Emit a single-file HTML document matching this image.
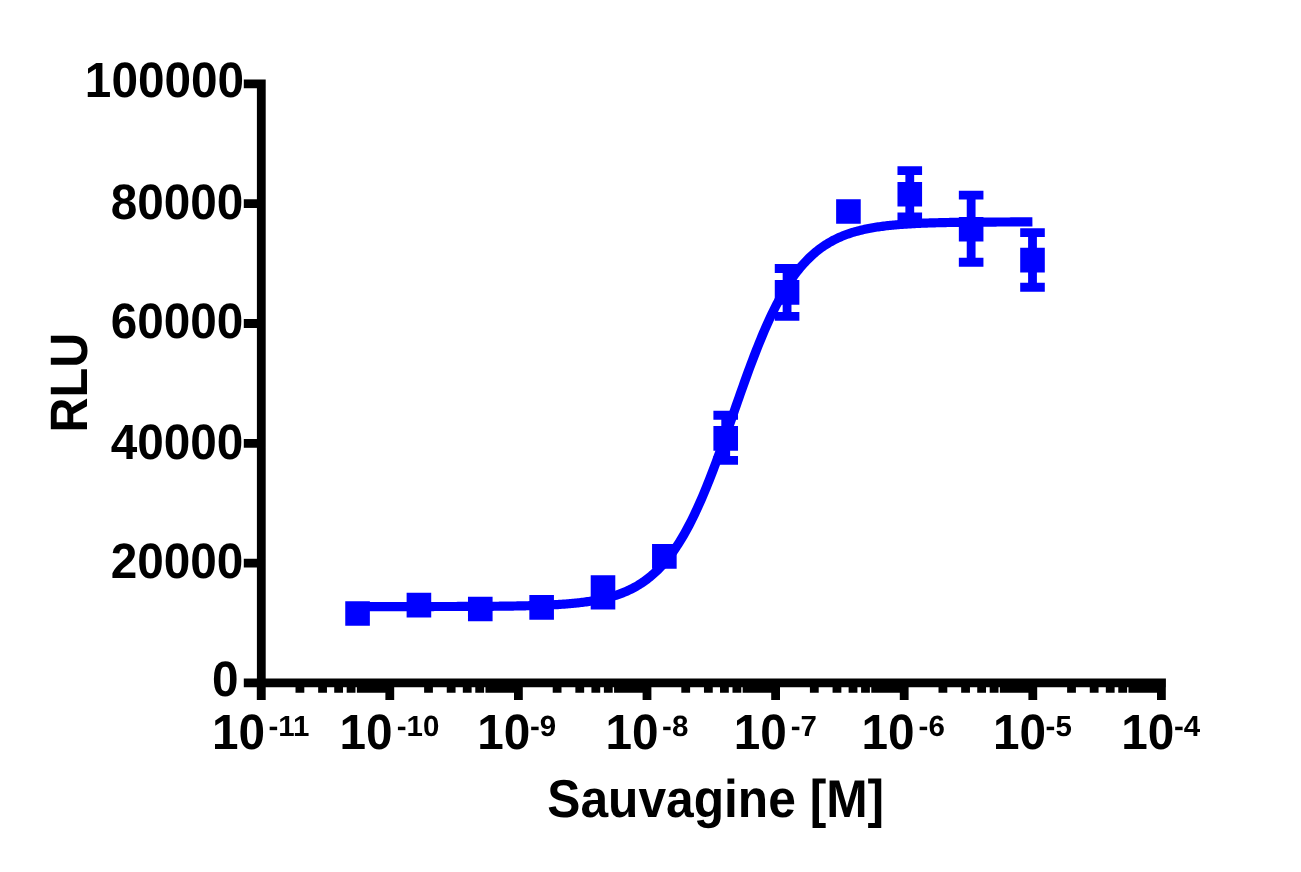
<!DOCTYPE html>
<html><head><meta charset="utf-8"><title>Sauvagine dose response</title>
<style>
html,body{margin:0;padding:0;background:#fff;width:1301px;height:872px;overflow:hidden}
svg{display:block}
.t{font-family:"Liberation Sans",Arial,sans-serif;font-weight:bold;fill:#000;text-rendering:geometricPrecision}
</style></head><body>
<svg width="1301" height="872" viewBox="0 0 1301 872">
<rect width="1301" height="872" fill="#fff"/>
<path d="M256.90 79.50H265.70V700.10H256.90ZM256.90 678.50H1165.90V687.30H256.90ZM243.80 678.50H261.30V687.30H243.80ZM243.80 558.70H261.30V567.50H243.80ZM243.80 438.90H261.30V447.70H243.80ZM243.80 319.10H261.30V327.90H243.80ZM243.80 199.30H261.30V208.10H243.80ZM243.80 79.50H261.30V88.30H243.80ZM256.80 682.90H265.60V700.10H256.80ZM295.51 682.90H304.31V692.70H295.51ZM318.16 682.90H326.96V692.70H318.16ZM334.22 682.90H343.02V692.70H334.22ZM346.69 682.90H355.49V692.70H346.69ZM356.87 682.90H365.67V692.70H356.87ZM365.48 682.90H374.28V692.70H365.48ZM372.94 682.90H381.74V692.70H372.94ZM379.52 682.90H388.32V692.70H379.52ZM385.40 682.90H394.20V700.10H385.40ZM424.11 682.90H432.91V692.70H424.11ZM446.76 682.90H455.56V692.70H446.76ZM462.82 682.90H471.62V692.70H462.82ZM475.29 682.90H484.09V692.70H475.29ZM485.47 682.90H494.27V692.70H485.47ZM494.08 682.90H502.88V692.70H494.08ZM501.54 682.90H510.34V692.70H501.54ZM508.12 682.90H516.92V692.70H508.12ZM514.00 682.90H522.80V700.10H514.00ZM552.71 682.90H561.51V692.70H552.71ZM575.36 682.90H584.16V692.70H575.36ZM591.42 682.90H600.22V692.70H591.42ZM603.89 682.90H612.69V692.70H603.89ZM614.07 682.90H622.87V692.70H614.07ZM622.68 682.90H631.48V692.70H622.68ZM630.14 682.90H638.94V692.70H630.14ZM636.72 682.90H645.52V692.70H636.72ZM642.60 682.90H651.40V700.10H642.60ZM681.31 682.90H690.11V692.70H681.31ZM703.96 682.90H712.76V692.70H703.96ZM720.02 682.90H728.82V692.70H720.02ZM732.49 682.90H741.29V692.70H732.49ZM742.67 682.90H751.47V692.70H742.67ZM751.28 682.90H760.08V692.70H751.28ZM758.74 682.90H767.54V692.70H758.74ZM765.32 682.90H774.12V692.70H765.32ZM771.20 682.90H780.00V700.10H771.20ZM809.91 682.90H818.71V692.70H809.91ZM832.56 682.90H841.36V692.70H832.56ZM848.62 682.90H857.42V692.70H848.62ZM861.09 682.90H869.89V692.70H861.09ZM871.27 682.90H880.07V692.70H871.27ZM879.88 682.90H888.68V692.70H879.88ZM887.34 682.90H896.14V692.70H887.34ZM893.92 682.90H902.72V692.70H893.92ZM899.80 682.90H908.60V700.10H899.80ZM938.51 682.90H947.31V692.70H938.51ZM961.16 682.90H969.96V692.70H961.16ZM977.22 682.90H986.02V692.70H977.22ZM989.69 682.90H998.49V692.70H989.69ZM999.87 682.90H1008.67V692.70H999.87ZM1008.48 682.90H1017.28V692.70H1008.48ZM1015.94 682.90H1024.74V692.70H1015.94ZM1022.52 682.90H1031.32V692.70H1022.52ZM1028.40 682.90H1037.20V700.10H1028.40ZM1067.11 682.90H1075.91V692.70H1067.11ZM1089.76 682.90H1098.56V692.70H1089.76ZM1105.82 682.90H1114.62V692.70H1105.82ZM1118.29 682.90H1127.09V692.70H1118.29ZM1128.47 682.90H1137.27V692.70H1128.47ZM1137.08 682.90H1145.88V692.70H1137.08ZM1144.54 682.90H1153.34V692.70H1144.54ZM1151.12 682.90H1159.92V692.70H1151.12ZM1157.00 682.90H1165.80V700.10H1157.00Z" fill="#000"/>
<path d="M357.60,606.57 L358.95,606.57 L360.30,606.57 L361.66,606.57 L363.01,606.57 L364.36,606.57 L365.71,606.57 L367.07,606.57 L368.42,606.57 L369.77,606.57 L371.12,606.57 L372.48,606.57 L373.83,606.57 L375.18,606.57 L376.53,606.57 L377.88,606.57 L379.24,606.57 L380.59,606.57 L381.94,606.57 L383.29,606.57 L384.65,606.57 L386.00,606.56 L387.35,606.56 L388.70,606.56 L390.06,606.56 L391.41,606.56 L392.76,606.56 L394.11,606.56 L395.46,606.56 L396.82,606.56 L398.17,606.56 L399.52,606.56 L400.87,606.56 L402.23,606.56 L403.58,606.56 L404.93,606.56 L406.28,606.55 L407.64,606.55 L408.99,606.55 L410.34,606.55 L411.69,606.55 L413.04,606.55 L414.40,606.55 L415.75,606.55 L417.10,606.55 L418.45,606.54 L419.81,606.54 L421.16,606.54 L422.51,606.54 L423.86,606.54 L425.22,606.54 L426.57,606.54 L427.92,606.53 L429.27,606.53 L430.62,606.53 L431.98,606.53 L433.33,606.53 L434.68,606.52 L436.03,606.52 L437.39,606.52 L438.74,606.52 L440.09,606.52 L441.44,606.51 L442.80,606.51 L444.15,606.51 L445.50,606.50 L446.85,606.50 L448.20,606.50 L449.56,606.50 L450.91,606.49 L452.26,606.49 L453.61,606.49 L454.97,606.48 L456.32,606.48 L457.67,606.47 L459.02,606.47 L460.38,606.46 L461.73,606.46 L463.08,606.46 L464.43,606.45 L465.78,606.45 L467.14,606.44 L468.49,606.43 L469.84,606.43 L471.19,606.42 L472.55,606.42 L473.90,606.41 L475.25,606.40 L476.60,606.39 L477.96,606.39 L479.31,606.38 L480.66,606.37 L482.01,606.36 L483.36,606.35 L484.72,606.35 L486.07,606.34 L487.42,606.33 L488.77,606.32 L490.13,606.30 L491.48,606.29 L492.83,606.28 L494.18,606.27 L495.54,606.26 L496.89,606.24 L498.24,606.23 L499.59,606.22 L500.94,606.20 L502.30,606.19 L503.65,606.17 L505.00,606.15 L506.35,606.13 L507.71,606.12 L509.06,606.10 L510.41,606.08 L511.76,606.06 L513.12,606.04 L514.47,606.01 L515.82,605.99 L517.17,605.97 L518.52,605.94 L519.88,605.92 L521.23,605.89 L522.58,605.86 L523.93,605.83 L525.29,605.80 L526.64,605.77 L527.99,605.73 L529.34,605.70 L530.69,605.66 L532.05,605.63 L533.40,605.59 L534.75,605.55 L536.10,605.50 L537.46,605.46 L538.81,605.41 L540.16,605.37 L541.51,605.32 L542.87,605.27 L544.22,605.21 L545.57,605.16 L546.92,605.10 L548.27,605.04 L549.63,604.97 L550.98,604.91 L552.33,604.84 L553.68,604.77 L555.04,604.69 L556.39,604.62 L557.74,604.54 L559.09,604.45 L560.45,604.37 L561.80,604.28 L563.15,604.18 L564.50,604.08 L565.85,603.98 L567.21,603.88 L568.56,603.77 L569.91,603.65 L571.26,603.53 L572.62,603.41 L573.97,603.28 L575.32,603.14 L576.67,603.00 L578.03,602.86 L579.38,602.70 L580.73,602.55 L582.08,602.38 L583.43,602.21 L584.79,602.03 L586.14,601.85 L587.49,601.66 L588.84,601.46 L590.20,601.25 L591.55,601.03 L592.90,600.81 L594.25,600.58 L595.61,600.33 L596.96,600.08 L598.31,599.82 L599.66,599.54 L601.01,599.26 L602.37,598.96 L603.72,598.66 L605.07,598.34 L606.42,598.01 L607.78,597.66 L609.13,597.30 L610.48,596.93 L611.83,596.54 L613.19,596.14 L614.54,595.72 L615.89,595.29 L617.24,594.84 L618.59,594.37 L619.95,593.89 L621.30,593.38 L622.65,592.86 L624.00,592.31 L625.36,591.75 L626.71,591.16 L628.06,590.55 L629.41,589.92 L630.77,589.27 L632.12,588.59 L633.47,587.88 L634.82,587.15 L636.17,586.40 L637.53,585.61 L638.88,584.80 L640.23,583.95 L641.58,583.08 L642.94,582.17 L644.29,581.23 L645.64,580.26 L646.99,579.25 L648.35,578.21 L649.70,577.13 L651.05,576.02 L652.40,574.86 L653.75,573.67 L655.11,572.43 L656.46,571.16 L657.81,569.84 L659.16,568.48 L660.52,567.07 L661.87,565.61 L663.22,564.11 L664.57,562.56 L665.93,560.97 L667.28,559.32 L668.63,557.62 L669.98,555.87 L671.33,554.07 L672.69,552.21 L674.04,550.30 L675.39,548.34 L676.74,546.31 L678.10,544.23 L679.45,542.10 L680.80,539.90 L682.15,537.65 L683.51,535.34 L684.86,532.96 L686.21,530.53 L687.56,528.04 L688.91,525.49 L690.27,522.88 L691.62,520.20 L692.97,517.47 L694.32,514.68 L695.68,511.83 L697.03,508.92 L698.38,505.95 L699.73,502.92 L701.09,499.84 L702.44,496.70 L703.79,493.50 L705.14,490.25 L706.49,486.95 L707.85,483.60 L709.20,480.20 L710.55,476.76 L711.90,473.26 L713.26,469.73 L714.61,466.15 L715.96,462.53 L717.31,458.88 L718.67,455.19 L720.02,451.47 L721.37,447.72 L722.72,443.94 L724.07,440.14 L725.43,436.32 L726.78,432.49 L728.13,428.63 L729.48,424.77 L730.84,420.90 L732.19,417.02 L733.54,413.14 L734.89,409.26 L736.25,405.38 L737.60,401.52 L738.95,397.66 L740.30,393.81 L741.65,389.98 L743.01,386.18 L744.36,382.39 L745.71,378.63 L747.06,374.89 L748.42,371.19 L749.77,367.52 L751.12,363.89 L752.47,360.29 L753.83,356.74 L755.18,353.23 L756.53,349.76 L757.88,346.34 L759.23,342.97 L760.59,339.64 L761.94,336.37 L763.29,333.15 L764.64,329.99 L766.00,326.88 L767.35,323.83 L768.70,320.83 L770.05,317.90 L771.41,315.02 L772.76,312.20 L774.11,309.44 L775.46,306.74 L776.81,304.10 L778.17,301.53 L779.52,299.01 L780.87,296.55 L782.22,294.15 L783.58,291.81 L784.93,289.53 L786.28,287.31 L787.63,285.15 L788.99,283.05 L790.34,281.00 L791.69,279.01 L793.04,277.07 L794.39,275.19 L795.75,273.37 L797.10,271.59 L798.45,269.87 L799.80,268.20 L801.16,266.58 L802.51,265.01 L803.86,263.49 L805.21,262.02 L806.57,260.59 L807.92,259.21 L809.27,257.87 L810.62,256.57 L811.97,255.32 L813.33,254.11 L814.68,252.94 L816.03,251.80 L817.38,250.71 L818.74,249.65 L820.09,248.63 L821.44,247.64 L822.79,246.69 L824.15,245.77 L825.50,244.88 L826.85,244.02 L828.20,243.20 L829.55,242.40 L830.91,241.63 L832.26,240.88 L833.61,240.17 L834.96,239.48 L836.32,238.81 L837.67,238.17 L839.02,237.55 L840.37,236.96 L841.73,236.38 L843.08,235.83 L844.43,235.30 L845.78,234.78 L847.13,234.29 L848.49,233.81 L849.84,233.36 L851.19,232.92 L852.54,232.49 L853.90,232.08 L855.25,231.69 L856.60,231.31 L857.95,230.95 L859.31,230.60 L860.66,230.26 L862.01,229.93 L863.36,229.62 L864.71,229.32 L866.07,229.03 L867.42,228.75 L868.77,228.49 L870.12,228.23 L871.48,227.98 L872.83,227.74 L874.18,227.52 L875.53,227.30 L876.88,227.08 L878.24,226.88 L879.59,226.68 L880.94,226.50 L882.29,226.32 L883.65,226.14 L885.00,225.98 L886.35,225.81 L887.70,225.66 L889.06,225.51 L890.41,225.37 L891.76,225.23 L893.11,225.10 L894.46,224.97 L895.82,224.85 L897.17,224.74 L898.52,224.62 L899.87,224.52 L901.23,224.41 L902.58,224.31 L903.93,224.22 L905.28,224.12 L906.64,224.04 L907.99,223.95 L909.34,223.87 L910.69,223.79 L912.04,223.71 L913.40,223.64 L914.75,223.57 L916.10,223.51 L917.45,223.44 L918.81,223.38 L920.16,223.32 L921.51,223.26 L922.86,223.21 L924.22,223.16 L925.57,223.11 L926.92,223.06 L928.27,223.01 L929.62,222.97 L930.98,222.92 L932.33,222.88 L933.68,222.84 L935.03,222.80 L936.39,222.77 L937.74,222.73 L939.09,222.70 L940.44,222.67 L941.80,222.63 L943.15,222.60 L944.50,222.58 L945.85,222.55 L947.20,222.52 L948.56,222.50 L949.91,222.47 L951.26,222.45 L952.61,222.42 L953.97,222.40 L955.32,222.38 L956.67,222.36 L958.02,222.34 L959.38,222.32 L960.73,222.31 L962.08,222.29 L963.43,222.27 L964.78,222.26 L966.14,222.24 L967.49,222.23 L968.84,222.21 L970.19,222.20 L971.55,222.19 L972.90,222.17 L974.25,222.16 L975.60,222.15 L976.96,222.14 L978.31,222.13 L979.66,222.12 L981.01,222.11 L982.36,222.10 L983.72,222.09 L985.07,222.08 L986.42,222.07 L987.77,222.07 L989.13,222.06 L990.48,222.05 L991.83,222.05 L993.18,222.04 L994.54,222.03 L995.89,222.03 L997.24,222.02 L998.59,222.01 L999.94,222.01 L1001.30,222.00 L1002.65,222.00 L1004.00,221.99 L1005.35,221.99 L1006.71,221.98 L1008.06,221.98 L1009.41,221.98 L1010.76,221.97 L1012.12,221.97 L1013.47,221.96 L1014.82,221.96 L1016.17,221.96 L1017.52,221.95 L1018.88,221.95 L1020.23,221.95 L1021.58,221.94 L1022.93,221.94 L1024.29,221.94 L1025.64,221.94 L1026.99,221.93 L1028.34,221.93 L1029.70,221.93 L1031.05,221.93 L1032.40,221.92" fill="none" stroke="#0000ff" stroke-width="9.2"/>
<path d="M345.26 601.15H369.86V625.75H345.26ZM406.62 592.80H431.22V617.40H406.62ZM467.98 596.70H492.58V621.30H467.98ZM529.34 595.10H553.94V619.70H529.34ZM598.60 579.70H607.40V605.00H598.60ZM590.70 575.30H615.30V584.10H590.70ZM590.70 600.60H615.30V609.40H590.70ZM590.70 580.05H615.30V604.65H590.70ZM652.05 544.05H676.65V568.65H652.05ZM721.31 415.25H730.11V460.45H721.31ZM713.41 410.85H738.01V419.65H713.41ZM713.41 456.05H738.01V464.85H713.41ZM713.41 426.05H738.01V450.65H713.41ZM782.67 268.50H791.47V316.35H782.67ZM774.77 264.10H799.37V272.90H774.77ZM774.77 311.95H799.37V320.75H774.77ZM774.77 280.05H799.37V304.65H774.77ZM836.13 199.25H860.73V223.85H836.13ZM905.38 170.55H914.18V216.85H905.38ZM897.48 166.15H922.08V174.95H897.48ZM897.48 212.45H922.08V221.25H897.48ZM897.48 182.00H922.08V206.60H897.48ZM966.74 195.20H975.54V262.25H966.74ZM958.84 190.80H983.44V199.60H958.84ZM958.84 257.85H983.44V266.65H958.84ZM958.84 217.00H983.44V241.60H958.84ZM1028.10 232.55H1036.90V287.25H1028.10ZM1020.20 228.15H1044.80V236.95H1020.20ZM1020.20 282.85H1044.80V291.65H1020.20ZM1020.20 247.85H1044.80V272.45H1020.20Z" fill="#0000ff"/>
<text transform="translate(238.60 696.10) scale(1 1.04)" text-anchor="end" class="t" font-size="47.7">0</text>
<text transform="translate(243.30 577.50) scale(1 1.04)" text-anchor="end" class="t" font-size="47.7">20000</text>
<text transform="translate(243.30 459.00) scale(1 1.04)" text-anchor="end" class="t" font-size="47.7">40000</text>
<text transform="translate(243.30 337.50) scale(1 1.04)" text-anchor="end" class="t" font-size="47.7">60000</text>
<text transform="translate(243.30 218.90) scale(1 1.04)" text-anchor="end" class="t" font-size="47.7">80000</text>
<text transform="translate(244.00 97.10) scale(1 1.04)" text-anchor="end" class="t" font-size="47.7">100000</text>
<text transform="translate(211.88 749.30) scale(1 1.04)" class="t" font-size="47.7">10</text>
<text transform="translate(268.40 736.20) scale(1 0.99)" class="t" font-size="29.5">-11</text>
<text transform="translate(339.58 749.30) scale(1 1.04)" class="t" font-size="47.7">10</text>
<text transform="translate(396.80 736.20) scale(1 0.99)" class="t" font-size="29.5">-10</text>
<text transform="translate(477.28 749.30) scale(1 1.04)" class="t" font-size="47.7">10</text>
<text transform="translate(530.00 736.20) scale(1 0.99)" class="t" font-size="29.5">-9</text>
<text transform="translate(605.38 749.30) scale(1 1.04)" class="t" font-size="47.7">10</text>
<text transform="translate(662.10 736.20) scale(1 0.99)" class="t" font-size="29.5">-8</text>
<text transform="translate(733.78 749.30) scale(1 1.04)" class="t" font-size="47.7">10</text>
<text transform="translate(790.70 736.20) scale(1 0.99)" class="t" font-size="29.5">-7</text>
<text transform="translate(861.58 749.30) scale(1 1.04)" class="t" font-size="47.7">10</text>
<text transform="translate(918.60 736.20) scale(1 0.99)" class="t" font-size="29.5">-6</text>
<text transform="translate(992.98 749.30) scale(1 1.04)" class="t" font-size="47.7">10</text>
<text transform="translate(1045.60 736.20) scale(1 0.99)" class="t" font-size="29.5">-5</text>
<text transform="translate(1121.18 749.30) scale(1 1.04)" class="t" font-size="47.7">10</text>
<text transform="translate(1174.00 736.20) scale(1 0.99)" class="t" font-size="29.5">-4</text>
<text transform="translate(87.1 382.65) rotate(-90) scale(1 1.085)" text-anchor="middle" class="t" font-size="48.5">RLU</text>
<text transform="translate(715.7 817.4) scale(1 1.07)" text-anchor="middle" class="t" font-size="49.7">Sauvagine [M]</text>
</svg>
</body></html>
